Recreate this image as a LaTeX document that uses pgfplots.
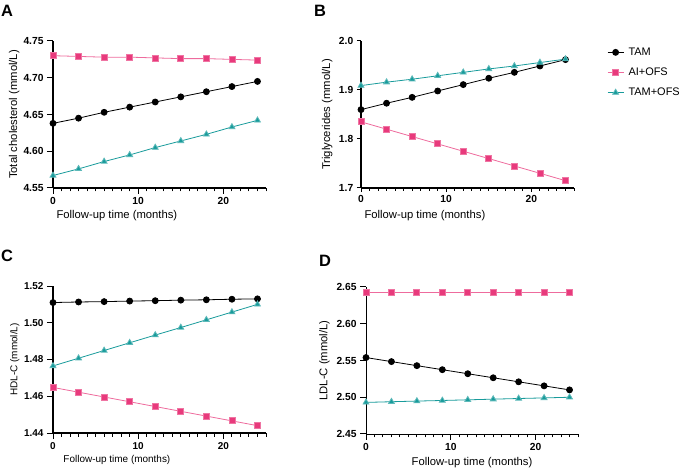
\documentclass[border=0pt]{standalone}
\usepackage{fontspec}
\setmainfont{Liberation Sans}
\usepackage{pgfplots}
\pgfplotsset{compat=1.18}
\definecolor{cpink}{RGB}{232,58,124}
\definecolor{cteal}{RGB}{24,155,155}
\pgfplotsset{
  panelbase/.style={
    scale only axis, width=213bp, height=147bp,
    axis x line*=bottom, axis y line*=left,
    xmin=0, xmax=25, xtick={0,10,20}, minor xtick={1,2,...,25},
    tick align=outside,
    xtick style={line width=1bp, black},
    ytick style={line width=1bp, black},
    x axis line style={line width=1.3bp},
    y axis line style={line width=1.3bp},
    /pgf/number format/assume math mode=true,
    /pgf/number format/fixed, /pgf/number format/fixed zerofill,
    xticklabel style={/pgf/number format/precision=0},
    xlabel={Follow-up time (months)},
    xlabel style={at={(axis description cs:0.30,0)}, anchor=north, yshift=-19bp},
    legend image code/.code={\draw[mark repeat=2,mark phase=2,##1] plot coordinates {(0bp,0bp)(8bp,0bp)(16bp,0bp)};},
  },
  lens/.style={major tick length=6bp, minor tick length=3.5bp},
  fonts/.style={tick label style={font=\bfseries\fontsize{10.3}{12}\selectfont},
    label style={font=\fontsize{11.3}{13}\selectfont}},
  tam/.style={black, line width=0.8bp, mark=*, mark size=3bp, mark options={solid, fill=black}},
  ai/.style={cpink!75, line width=0.8bp, mark=square*, mark size=3bp, mark options={solid, fill=cpink, draw=cpink!70}},
  tamofs/.style={cteal, line width=0.8bp, mark=triangle*, mark size=3.4bp, mark options={solid, fill=cteal, draw=cteal!70}},
}
\begin{document}
\begin{tikzpicture}
\path (0bp,0bp) rectangle (685bp,473bp);
\node[font=\bfseries\fontsize{16.5}{18}\selectfont, anchor=north west, inner sep=0] at (1bp,468bp) {A};
\node[font=\bfseries\fontsize{16.5}{18}\selectfont, anchor=north west, inner sep=0] at (314bp,468bp) {B};
\node[font=\bfseries\fontsize{16.5}{18}\selectfont, anchor=north west, inner sep=0] at (1bp,223bp) {C};
\node[font=\bfseries\fontsize{16.5}{18}\selectfont, anchor=north west, inner sep=0] at (319bp,218bp) {D};

% Panel A
\begin{axis}[panelbase, lens, fonts, at={(53bp,285bp)}, anchor=south west,
  ymin=4.55, ymax=4.75, ytick={4.55,4.60,4.65,4.70,4.75},
  yticklabel style={/pgf/number format/precision=2},
  ylabel={Total cholesterol (mmol/L)},
  ylabel style={at={(axis description cs:0,0.5)}, anchor=south, yshift=30bp}]
\addplot[tam] coordinates {(0,4.638)(3,4.645)(6,4.653)(9,4.660)(12,4.667)(15,4.674)(18,4.681)(21,4.688)(24,4.695)};
\addplot[ai] coordinates {(0,4.730)(3,4.729)(6,4.728)(9,4.728)(12,4.727)(15,4.726)(18,4.726)(21,4.725)(24,4.724)};
\addplot[tamofs] coordinates {(0,4.567)(3,4.576)(6,4.586)(9,4.595)(12,4.605)(15,4.614)(18,4.623)(21,4.633)(24,4.642)};
\end{axis}

% Panel B
\begin{axis}[panelbase, fonts, at={(361bp,285bp)}, anchor=origin,
  ymin=1.7, ymax=2.0, ytick={1.7,1.8,1.9,2.0},
  yticklabel style={/pgf/number format/precision=1},
  ylabel={Triglycerides (mmol/L)},
  ylabel style={at={(axis description cs:0,0.5)}, anchor=south, yshift=25bp},
  legend style={at={(axis description cs:1.155,0.965)}, anchor=north west, draw=none, fill=none,
    font=\fontsize{11}{13}\selectfont, row sep=8bp, inner sep=0pt,
    nodes={inner sep=1.5bp}},
  legend cell align=left]
\addplot[tam] coordinates {(0,1.860)(3,1.873)(6,1.885)(9,1.898)(12,1.911)(15,1.924)(18,1.936)(21,1.949)(24,1.962)};
\addplot[ai] coordinates {(0,1.835)(3,1.820)(6,1.805)(9,1.790)(12,1.775)(15,1.760)(18,1.745)(21,1.730)(24,1.715)};
\addplot[tamofs] coordinates {(0,1.909)(3,1.916)(6,1.922)(9,1.929)(12,1.936)(15,1.943)(18,1.949)(21,1.956)(24,1.963)};
\legend{\hspace{3bp}TAM, \hspace{3bp}AI+OFS, \hspace{3bp}TAM+OFS}
\end{axis}

% Panel C
\begin{axis}[panelbase, lens, at={(53bp,40bp)}, anchor=origin,
  tick label style={font=\bfseries},
  ymin=1.44, ymax=1.52, ytick={1.44,1.46,1.48,1.50,1.52},
  yticklabel style={/pgf/number format/precision=2},
  ylabel={HDL-C (mmol/L)},
  ylabel style={at={(axis description cs:0,0.5)}, anchor=south, yshift=30bp}]
\addplot[tam] coordinates {(0,1.5110)(3,1.5113)(6,1.5115)(9,1.5118)(12,1.5120)(15,1.5123)(18,1.5125)(21,1.5128)(24,1.5130)};
\addplot[ai] coordinates {(0,1.4648)(3,1.4622)(6,1.4596)(9,1.4570)(12,1.4544)(15,1.4518)(18,1.4492)(21,1.4466)(24,1.4440)};
\addplot[tamofs] coordinates {(0,1.4765)(3,1.4807)(6,1.4849)(9,1.4891)(12,1.4933)(15,1.4974)(18,1.5016)(21,1.5058)(24,1.5100)};
\end{axis}

% Panel D
\begin{axis}[scale only axis, width=212bp, height=147bp,
    axis x line*=bottom, axis y line*=left,
    xmin=0, xmax=25, xtick={0,10,20}, minor xtick={1,2,...,25},
    tick align=outside, major tick length=6bp, minor tick length=3.5bp,
    xtick style={line width=1bp, black}, ytick style={line width=1bp, black},
    /pgf/number format/assume math mode=true, fonts,
  at={(366bp,39bp)}, anchor=south west,
  ymin=2.45, ymax=2.65, ytick={2.45,2.50,2.55,2.60,2.65},
  yticklabel style={/pgf/number format/.cd, fixed, fixed zerofill, precision=2},
  xlabel={Follow-up time (months)},
  ylabel={LDL-C (mmol/L)}]
\addplot[tam] coordinates {(0,2.5540)(3,2.5485)(6,2.5430)(9,2.5375)(12,2.5320)(15,2.5265)(18,2.5210)(21,2.5155)(24,2.5100)};
\addplot[ai] coordinates {(0,2.642)(3,2.642)(6,2.642)(9,2.642)(12,2.642)(15,2.642)(18,2.642)(21,2.642)(24,2.642)};
\addplot[tamofs] coordinates {(0,2.4930)(3,2.4939)(6,2.4948)(9,2.4956)(12,2.4965)(15,2.4974)(18,2.4983)(21,2.4991)(24,2.5000)};
\end{axis}
\end{tikzpicture}
\end{document}
